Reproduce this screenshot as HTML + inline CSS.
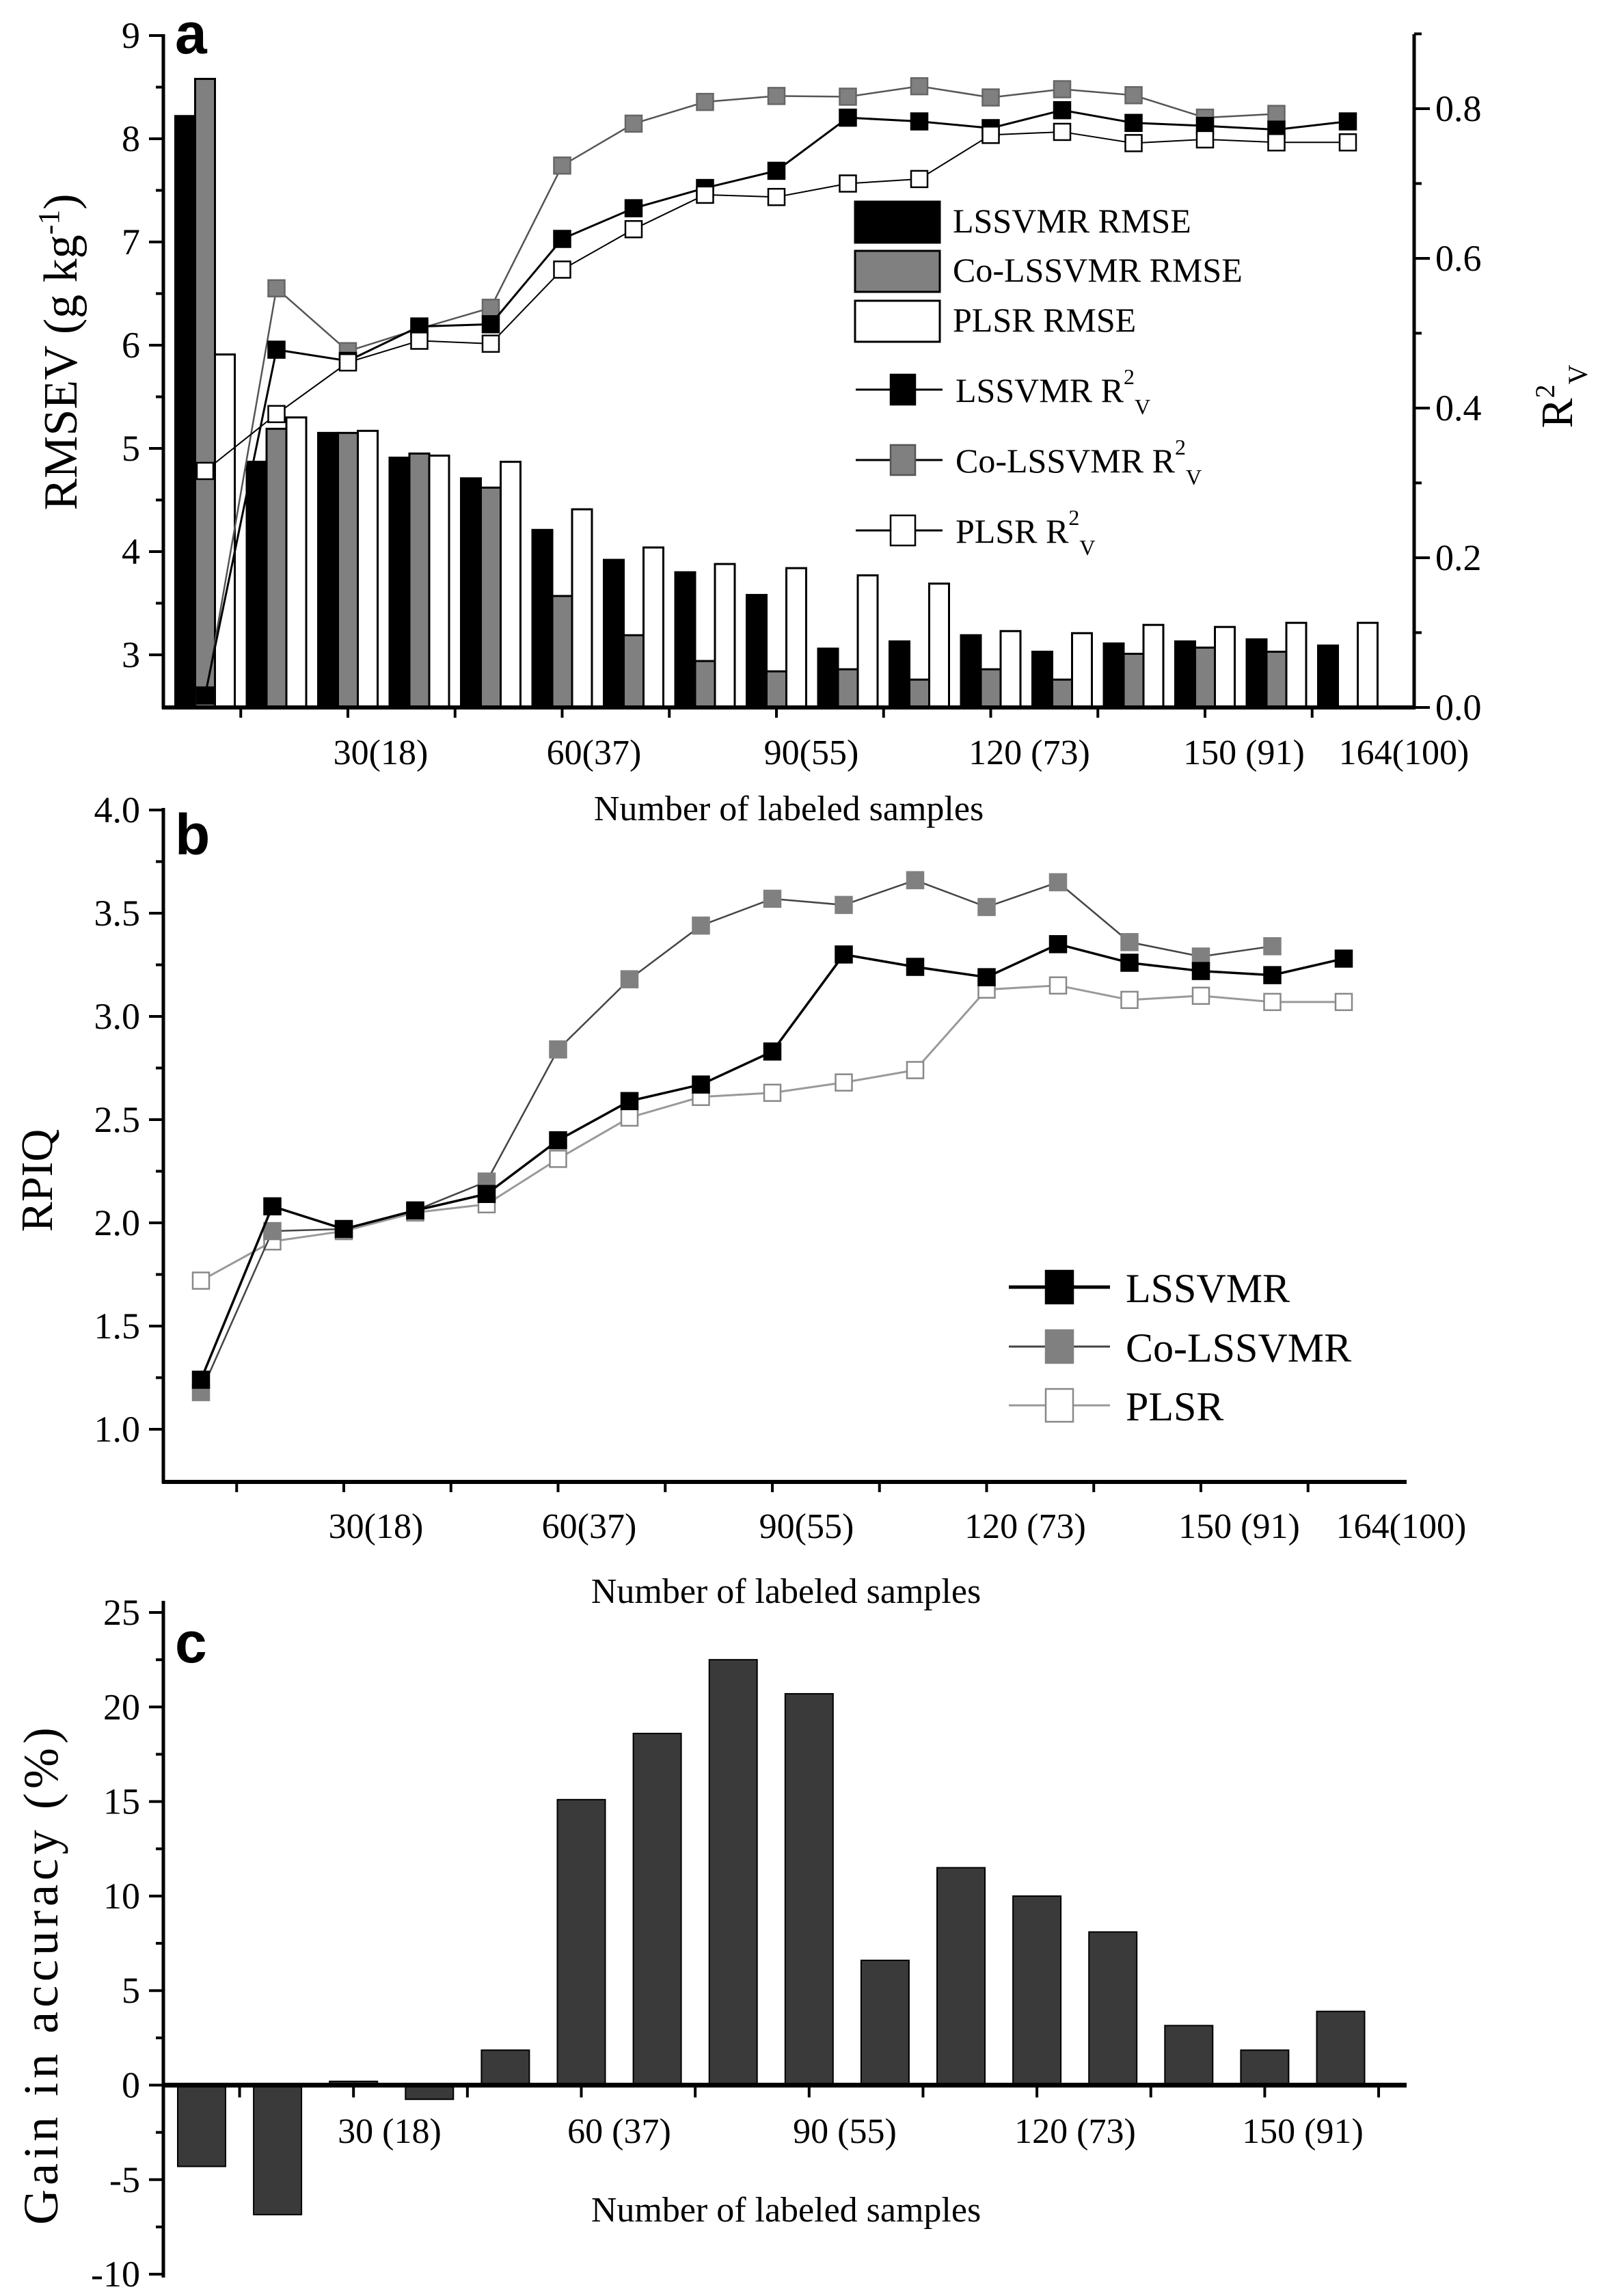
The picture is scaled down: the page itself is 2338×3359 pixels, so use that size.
<!DOCTYPE html>
<html><head><meta charset="utf-8"><style>
html,body{margin:0;padding:0;background:#fff;}
svg{display:block;font-family:"Liberation Serif",serif;}
</style></head><body>
<svg id="fig" xmlns="http://www.w3.org/2000/svg" width="2338" height="3359" viewBox="0 0 2338 3359">
<rect width="2338" height="3359" fill="#fff"/>
</svg>
<script>
const samplesA = [10,20,30,40,50,60,70,80,90,100,110,120,130,140,150,160,170];
const rmseLS = [8.22,4.87,5.15,4.91,4.71,4.21,3.92,3.80,3.58,3.06,3.13,3.19,3.03,3.11,3.13,3.15,3.09];
const rmseCo = [8.58,5.19,5.15,4.95,4.62,3.57,3.19,2.94,2.84,2.86,2.76,2.86,2.76,3.01,3.07,3.03,null];
const rmsePL = [5.91,5.30,5.17,4.93,4.87,4.41,4.04,3.88,3.84,3.77,3.69,3.23,3.21,3.29,3.27,3.31,3.31];
const r2LS = [0.016,0.478,0.463,0.509,0.512,0.626,0.667,0.694,0.717,0.788,0.783,0.774,0.798,0.781,0.777,0.772,0.783];
const r2Co = [0.012,0.560,0.476,0.506,0.534,0.724,0.780,0.809,0.817,0.816,0.830,0.815,0.826,0.818,0.788,0.793];
const r2PL = [0.316,0.392,0.461,0.490,0.486,0.585,0.639,0.685,0.682,0.700,0.706,0.765,0.769,0.754,0.759,0.755,0.755];
const rpiqLS = [1.24,2.08,1.97,2.06,2.14,2.40,2.59,2.67,2.83,3.30,3.24,3.19,3.35,3.26,3.22,3.20,3.28];
const rpiqCo = [1.18,1.96,1.97,2.06,2.20,2.84,3.18,3.44,3.57,3.54,3.66,3.53,3.65,3.36,3.29,3.34];
const rpiqPL = [1.72,1.91,1.96,2.05,2.09,2.31,2.51,2.61,2.63,2.68,2.74,3.13,3.15,3.08,3.10,3.07,3.07];
const samplesC = [10,20,30,40,50,60,70,80,90,100,110,120,130,140,150,160];
const gain = [-4.3,-6.85,0.2,-0.75,1.85,15.1,18.6,22.5,20.7,6.6,11.5,10.0,8.1,3.15,1.85,3.9];
const xLabelsAB = ["30(18)","60(37)","90(55)","120 (73)","150 (91)","164(100)"];
const xLabelsC = ["30 (18)","60 (37)","90 (55)","120 (73)","150 (91)"];
const yTicksA = [3,4,5,6,7,8,9];
const yTicksR2 = [0.0,0.2,0.4,0.6,0.8];
const yTicksB = [1.0,1.5,2.0,2.5,3.0,3.5,4.0];
const yTicksC = [-10,-5,0,5,10,15,20,25];

const NS="http://www.w3.org/2000/svg";
const svg=document.getElementById('fig');
function el(tag,attrs,parent,text){const e=document.createElementNS(NS,tag);for(const k in attrs)e.setAttribute(k,attrs[k]);if(text!==undefined)e.textContent=text;(parent||svg).appendChild(e);return e;}

const xA=s=>300+(s-10)*10.45;
const yA=v=>958-(v-3)*151;
const yR=r=>1035-r*1095;
const xB=s=>294+(s-10)*10.45;
const yB=v=>2091-(v-1)*302;
const xC=s=>295+(s-10)*11.11;
const yC=v=>3050.5-v*27.66;

// ---------- Panel a ----------
const gA=el('g',{});


const bw=29;
samplesA.forEach((s,i)=>{
  const cx=xA(s);
  [[rmseLS[i],'#000','bar-lssvmr-rmse',-1.5],[rmseCo[i],'#808080','bar-co-lssvmr-rmse',-0.5],[rmsePL[i],'#fff','bar-plsr-rmse',0.5]].forEach(([v,f,n,o])=>{
    if(v===null)return;
    const y=yA(v);
    const b=el('rect',{x:cx+o*bw,y:y,width:bw,height:1035-y,fill:f,stroke:'#000','stroke-width':3},gA);
    
    
  });
});
function series(g,xs,xf,vals,yf,lineCol,lw,mFill,mStroke,name){
  const pts=vals.map((v,i)=>[xf(xs[i]),yf(v)]);
  const pl=el('polyline',{points:pts.map(p=>p.join(',')).join(' '),fill:'none',stroke:lineCol,'stroke-width':lw},g);
  
  
  pts.forEach(p=>{
    const m=el('rect',{x:p[0]-12,y:p[1]-12,width:24,height:24,fill:mFill,stroke:mStroke,'stroke-width':2.5},g);
    
    
  });
}
series(gA,samplesA,xA,r2Co,yR,'#555',2.5,'#808080','#666','co-lssvmr-r2');
series(gA,samplesA,xA,r2LS,yR,'#000',3,'#000','#000','lssvmr-r2');
series(gA,samplesA,xA,r2PL,yR,'#000',2,'#fff','#000','plsr-r2');
el('line',{x1:239,y1:50,x2:239,y2:1037,stroke:'#000','stroke-width':5},gA);
el('line',{x1:2069,y1:50,x2:2069,y2:1037,stroke:'#000','stroke-width':5},gA);
el('line',{x1:237,y1:1035,x2:2071,y2:1035,stroke:'#000','stroke-width':6},gA);
for(let v=3;v<=9;v+=0.5){const y=yA(v);el('line',{x1:v%1?228:218,y1:y,x2:239,y2:y,stroke:'#000','stroke-width':4},gA);}
yTicksA.forEach(v=>{const t=el('text',{x:205,y:yA(v)+18,'font-size':54,'text-anchor':'end'},gA,String(v));});
for(let r=0;r<=0.9;r+=0.1){const y=yR(r);el('line',{x1:2069,y1:y,x2:Math.round(r*10)%2?2080:2092,y2:y,stroke:'#000','stroke-width':4},gA);}
yTicksR2.forEach(r=>{const t=el('text',{x:2100,y:yR(r)+18,'font-size':54},gA,r.toFixed(1));});
for(let s=15;s<=170;s+=15){el('line',{x1:xA(s),y1:1035,x2:xA(s),y2:1050,stroke:'#000','stroke-width':4},gA);}
const labXA=[557,869,1187,1506,1820,2054];
xLabelsAB.forEach((l,i)=>{const t=el('text',{x:labXA[i],y:1118,'font-size':52,'text-anchor':'middle'},gA,l);});
let t=el('text',{x:1154,y:1200,'font-size':52,'text-anchor':'middle'},gA,'Number of labeled samples');

t=el('text',{x:0,y:0,'font-size':70,'text-anchor':'middle',transform:'translate(112,515) rotate(-90)'},gA);

t.innerHTML='RMSEV (g kg<tspan dy="-26" font-size="44">-1</tspan><tspan dy="26">)</tspan>';
t=el('text',{x:0,y:0,'font-size':66,'text-anchor':'middle',transform:'translate(2300,580) rotate(-90)'},gA);

t.innerHTML='R<tspan dy="-26" font-size="40">2</tspan><tspan dy="48" font-size="40">V</tspan>';
t=el('text',{x:256,y:78,'font-size':84,'font-weight':'bold','font-family':'Liberation Sans, sans-serif'},gA,'a');

const legA=el('g',{},gA);

[['#000','LSSVMR RMSE',295],['#808080','Co-LSSVMR RMSE',367],['#fff','PLSR RMSE',440]].forEach(([f,l,y])=>{
  el('rect',{x:1251,y:y,width:124,height:60,fill:f,stroke:'#000','stroke-width':3},legA);
  const tt=el('text',{x:1394,y:y+45,'font-size':50},legA,l);
});
[['#000','#000','LSSVMR R',570],['#808080','#555','Co-LSSVMR R',673],['#fff','#000','PLSR R',776]].forEach(([f,s,l,y])=>{
  el('line',{x1:1252,y1:y,x2:1379,y2:y,stroke:'#000','stroke-width':3},legA);
  el('rect',{x:1303,y:y-22,width:36,height:44,fill:f,stroke:s,'stroke-width':2.5},legA);
  const tt=el('text',{x:1398,y:y+18,'font-size':50},legA);
  tt.innerHTML=l+'<tspan dy="-26" font-size="32">2</tspan><tspan dy="44" font-size="32">V</tspan>';
});

// ---------- Panel b ----------
const gB=el('g',{});

series(gB,samplesA,xB,rpiqPL,yB,'#999',3,'#fff','#888','plsr-rpiq');
series(gB,samplesA,xB,rpiqCo,yB,'#444',2.5,'#808080','#808080','co-lssvmr-rpiq');
series(gB,samplesA,xB,rpiqLS,yB,'#000',3.5,'#000','#000','lssvmr-rpiq');
el('line',{x1:239,y1:1182,x2:239,y2:2170,stroke:'#000','stroke-width':5},gB);
el('line',{x1:237,y1:2168,x2:2058,y2:2168,stroke:'#000','stroke-width':6},gB);
for(let v=1;v<=4;v+=0.25){const y=yB(v);el('line',{x1:(v*2)%1?228:218,y1:y,x2:239,y2:y,stroke:'#000','stroke-width':4},gB);}
yTicksB.forEach(v=>{const tt=el('text',{x:205,y:yB(v)+18,'font-size':54,'text-anchor':'end'},gB,v.toFixed(1));});
for(let s=15;s<=170;s+=15){el('line',{x1:xB(s),y1:2168,x2:xB(s),y2:2183,stroke:'#000','stroke-width':4},gB);}
const labXB=[550,862,1180,1500,1813,2050];
xLabelsAB.forEach((l,i)=>{const tt=el('text',{x:labXB[i],y:2250,'font-size':52,'text-anchor':'middle'},gB,l);});
t=el('text',{x:1150,y:2345,'font-size':52,'text-anchor':'middle'},gB,'Number of labeled samples');

t=el('text',{x:0,y:0,'font-size':66,'text-anchor':'middle',transform:'translate(76,1727) rotate(-90)'},gB,'RPIQ');

t=el('text',{x:256,y:1250,'font-size':84,'font-weight':'bold','font-family':'Liberation Sans, sans-serif'},gB,'b');

const legB=el('g',{},gB);

[['#000','#000','#000','LSSVMR',1883,5],['#808080','#808080','#444','Co-LSSVMR',1970,3],['#fff','#888','#999','PLSR',2056,3]].forEach(([f,s,lc,l,y,lw])=>{
  el('line',{x1:1476,y1:y,x2:1624,y2:y,stroke:lc,'stroke-width':lw},legB);
  el('rect',{x:1530,y:y-24,width:40,height:48,fill:f,stroke:s,'stroke-width':2.5},legB);
  const tt=el('text',{x:1647,y:y+22,'font-size':60},legB,l);
});

// ---------- Panel c ----------
const gC=el('g',{});

samplesC.forEach((s,i)=>{
  const v=gain[i];const y0=yC(0),y1=yC(v);
  const b=el('rect',{x:xC(s)-35,y:Math.min(y0,y1),width:70,height:Math.abs(y1-y0),fill:'#3a3a3a',stroke:'#000','stroke-width':2},gC);
  
  
});
el('line',{x1:239,y1:2342,x2:239,y2:3332,stroke:'#000','stroke-width':5},gC);
el('line',{x1:237,y1:yC(0),x2:2058,y2:yC(0),stroke:'#000','stroke-width':7},gC);
for(let v=-10;v<=25;v+=2.5){const y=yC(v);el('line',{x1:(v/2.5)%2?228:218,y1:y,x2:239,y2:y,stroke:'#000','stroke-width':4},gC);}
yTicksC.forEach(v=>{const tt=el('text',{x:205,y:yC(v)+18,'font-size':54,'text-anchor':'end'},gC,String(v));});
for(let s=15;s<=165;s+=15){el('line',{x1:xC(s),y1:yC(0),x2:xC(s),y2:yC(0)+18,stroke:'#000','stroke-width':4},gC);}
const labXC=[570,906,1236,1573,1906];
xLabelsC.forEach((l,i)=>{const tt=el('text',{x:labXC[i],y:3135,'font-size':52,'text-anchor':'middle'},gC,l);});
t=el('text',{x:1150,y:3250,'font-size':52,'text-anchor':'middle'},gC,'Number of labeled samples');

t=el('text',{x:0,y:0,'font-size':72,'letter-spacing':6,'text-anchor':'middle',transform:'translate(84,2888) rotate(-90)'},gC,'Gain in accuracy (%)');

t=el('text',{x:256,y:2432,'font-size':84,'font-weight':'bold','font-family':'Liberation Sans, sans-serif'},gC,'c');

</script>
</body></html>
